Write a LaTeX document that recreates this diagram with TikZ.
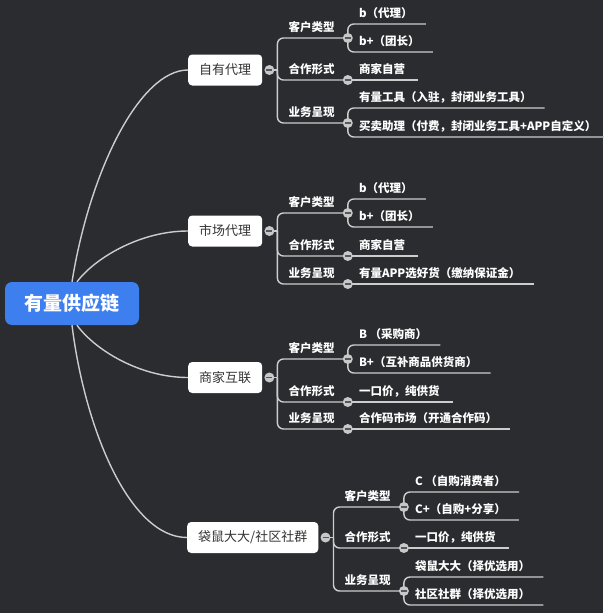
\documentclass[tikz,border=0pt]{standalone}
\usepackage{fontspec}
\setmainfont{Noto Sans CJK SC}

\definecolor{bgdark}{RGB}{42,44,48}
\definecolor{rootblue}{RGB}{62,127,240}
\definecolor{linegray}{RGB}{205,205,205}
\definecolor{foldgray}{RGB}{200,200,200}
\definecolor{bardark}{RGB}{85,87,92}
\definecolor{textdark}{RGB}{51,51,51}

\begin{document}
\begin{tikzpicture}[x=1pt, y=-1pt]
    \tikzstyle{root}=[fill=rootblue, text=white, rounded corners=7pt, minimum width=134pt, minimum height=43pt, inner sep=0pt, font=\fontsize{19}{19}\selectfont\bfseries]
    \tikzstyle{topic}=[fill=white, text=textdark, rounded corners=4pt, minimum height=31pt, inner xsep=11pt, inner ysep=0pt, anchor=west, font=\fontsize{13}{13}\selectfont]
    \tikzstyle{sub}=[anchor=south west, xshift=11pt, inner xsep=0pt, inner ysep=4.5pt, text height=9pt, text depth=2pt, text=white, font=\fontsize{11.5}{12}\selectfont\bfseries]
    \tikzstyle{leaf}=[anchor=south west, xshift=11pt, inner xsep=0pt, inner ysep=4.5pt, text height=9pt, text depth=2pt, text=white, font=\fontsize{11.5}{12}\selectfont\bfseries]
    \tikzstyle{branch}=[draw=linegray, line width=1.4pt, rounded corners=6pt]
    \tikzstyle{fold}=[circle, fill=foldgray, minimum size=10pt, inner sep=0pt, path picture={\draw[bardark, line width=1.3pt] ([xshift=-3pt]path picture bounding box.center) -- ([xshift=3pt]path picture bounding box.center);}]

    \fill[bgdark] (0,0) rectangle (603,613);
    \useasboundingbox (0,0) rectangle (603,613);

    % Draw the root and the four groups
    \node[root] (root) at (72,303.5) {有量供应链};
    \node[topic] (zy) at (188,70) {自有代理};
    \node[topic] (sc) at (188,231) {市场代理};
    \node[topic] (sj) at (188,377.5) {商家互联};
    \node[topic] (ds) at (187,537.5) {袋鼠大大/社区社群};

    \foreach \g in {zy,sc,sj,ds} {
        \coordinate (\g-o) at ([xshift=7pt]\g.east);
        \coordinate (\g-s) at ([xshift=8pt]\g-o);
    }

    % Draw the second level of every group
    \foreach \g/\a/\b/\c in {zy/38/80/123, sc/213/256/284, sj/359/402/429, ds/507/548/591} {
        \node[sub] (\g-kh) at (\g-s |- 0,\a) {客户类型};
        \node[sub] (\g-hz) at (\g-s |- 0,\b) {合作形式};
        \node[sub] (\g-yw) at (\g-s |- 0,\c) {业务呈现};
        \foreach \k in {kh,hz,yw}
            \coordinate (\g-\k-o) at ([xshift=13pt]\g-\k.south east);
    }

    % Draw the leaves
    \node[leaf] (zy-kh-1) at (zy-kh-o |- 0,24) {b（代理）};
    \node[leaf] (zy-kh-2) at (zy-kh-o |- 0,52) {b+（团长）};
    \node[leaf] (zy-hz-1) at (zy-hz-o) {商家自营};
    \node[leaf] (zy-yw-1) at (zy-yw-o |- 0,108) {有量工具（入驻，封闭业务工具）};
    \node[leaf] (zy-yw-2) at (zy-yw-o |- 0,137) {买卖助理（付费，封闭业务工具+APP自定义）};

    \node[leaf] (sc-kh-1) at (sc-kh-o |- 0,199) {b（代理）};
    \node[leaf] (sc-kh-2) at (sc-kh-o |- 0,227) {b+（团长）};
    \node[leaf] (sc-hz-1) at (sc-hz-o) {商家自营};
    \node[leaf] (sc-yw-1) at (sc-yw-o) {有量APP选好货（缴纳保证金）};

    \node[leaf] (sj-kh-1) at (sj-kh-o |- 0,345) {B （采购商）};
    \node[leaf] (sj-kh-2) at (sj-kh-o |- 0,373) {B+（互补商品供货商）};
    \node[leaf] (sj-hz-1) at (sj-hz-o) {一口价，纯供货};
    \node[leaf] (sj-yw-1) at (sj-yw-o) {合作码市场（开通合作码）};

    \node[leaf] (ds-kh-1) at (ds-kh-o |- 0,492) {C （自购消费者）};
    \node[leaf] (ds-kh-2) at (ds-kh-o |- 0,520) {C+（自购+分享）};
    \node[leaf] (ds-hz-1) at (ds-hz-o) {一口价，纯供货};
    \node[leaf] (ds-yw-1) at (ds-yw-o |- 0,577) {袋鼠大大（择优选用）};
    \node[leaf] (ds-yw-2) at (ds-yw-o |- 0,605) {社区社群（择优选用）};

    % Connect the root with every group
    \draw[branch] (root.north) .. controls (90,170) and (140,70) .. (zy.west);
    \draw[branch] ([xshift=5pt]root.north) .. controls (95,258) and (140,231) .. (sc.west);
    \draw[branch] ([xshift=5pt]root.south) .. controls (95,350) and (140,377.5) .. (sj.west);
    \draw[branch] (root.south) .. controls (85,430) and (130,537.5) .. (ds.west);

    % Connect every group with its second level
    \foreach \g in {zy,sc,sj,ds} {
        \draw[branch] (\g-o) -- (\g-s);
        \foreach \k in {kh,hz,yw}
            \draw[branch] (\g-s) |- (\g-\k-o);
    }

    % Connect the second level with the leaves
    \foreach \g/\k/\n in {zy/kh/1, zy/kh/2, zy/yw/1, zy/yw/2, sc/kh/1, sc/kh/2, sj/kh/1, sj/kh/2, ds/kh/1, ds/kh/2, ds/yw/1, ds/yw/2}
        \draw[branch] (\g-\k-o) |- ([xshift=13pt]\g-\k-\n.south east);
    \foreach \g/\k in {zy/hz, sc/hz, sc/yw, sj/hz, sj/yw, ds/hz}
        \draw[branch] (\g-\k-o) -- ([xshift=13pt]\g-\k-1.south east);

    % Draw the fold buttons on top
    \foreach \g in {zy,sc,sj,ds} {
        \node[fold] (\g-f) at (\g-o) {};
        \foreach \k in {kh,hz,yw}
            \node[fold] (\g-\k-f) at (\g-\k-o) {};
    }
\end{tikzpicture}
\end{document}
